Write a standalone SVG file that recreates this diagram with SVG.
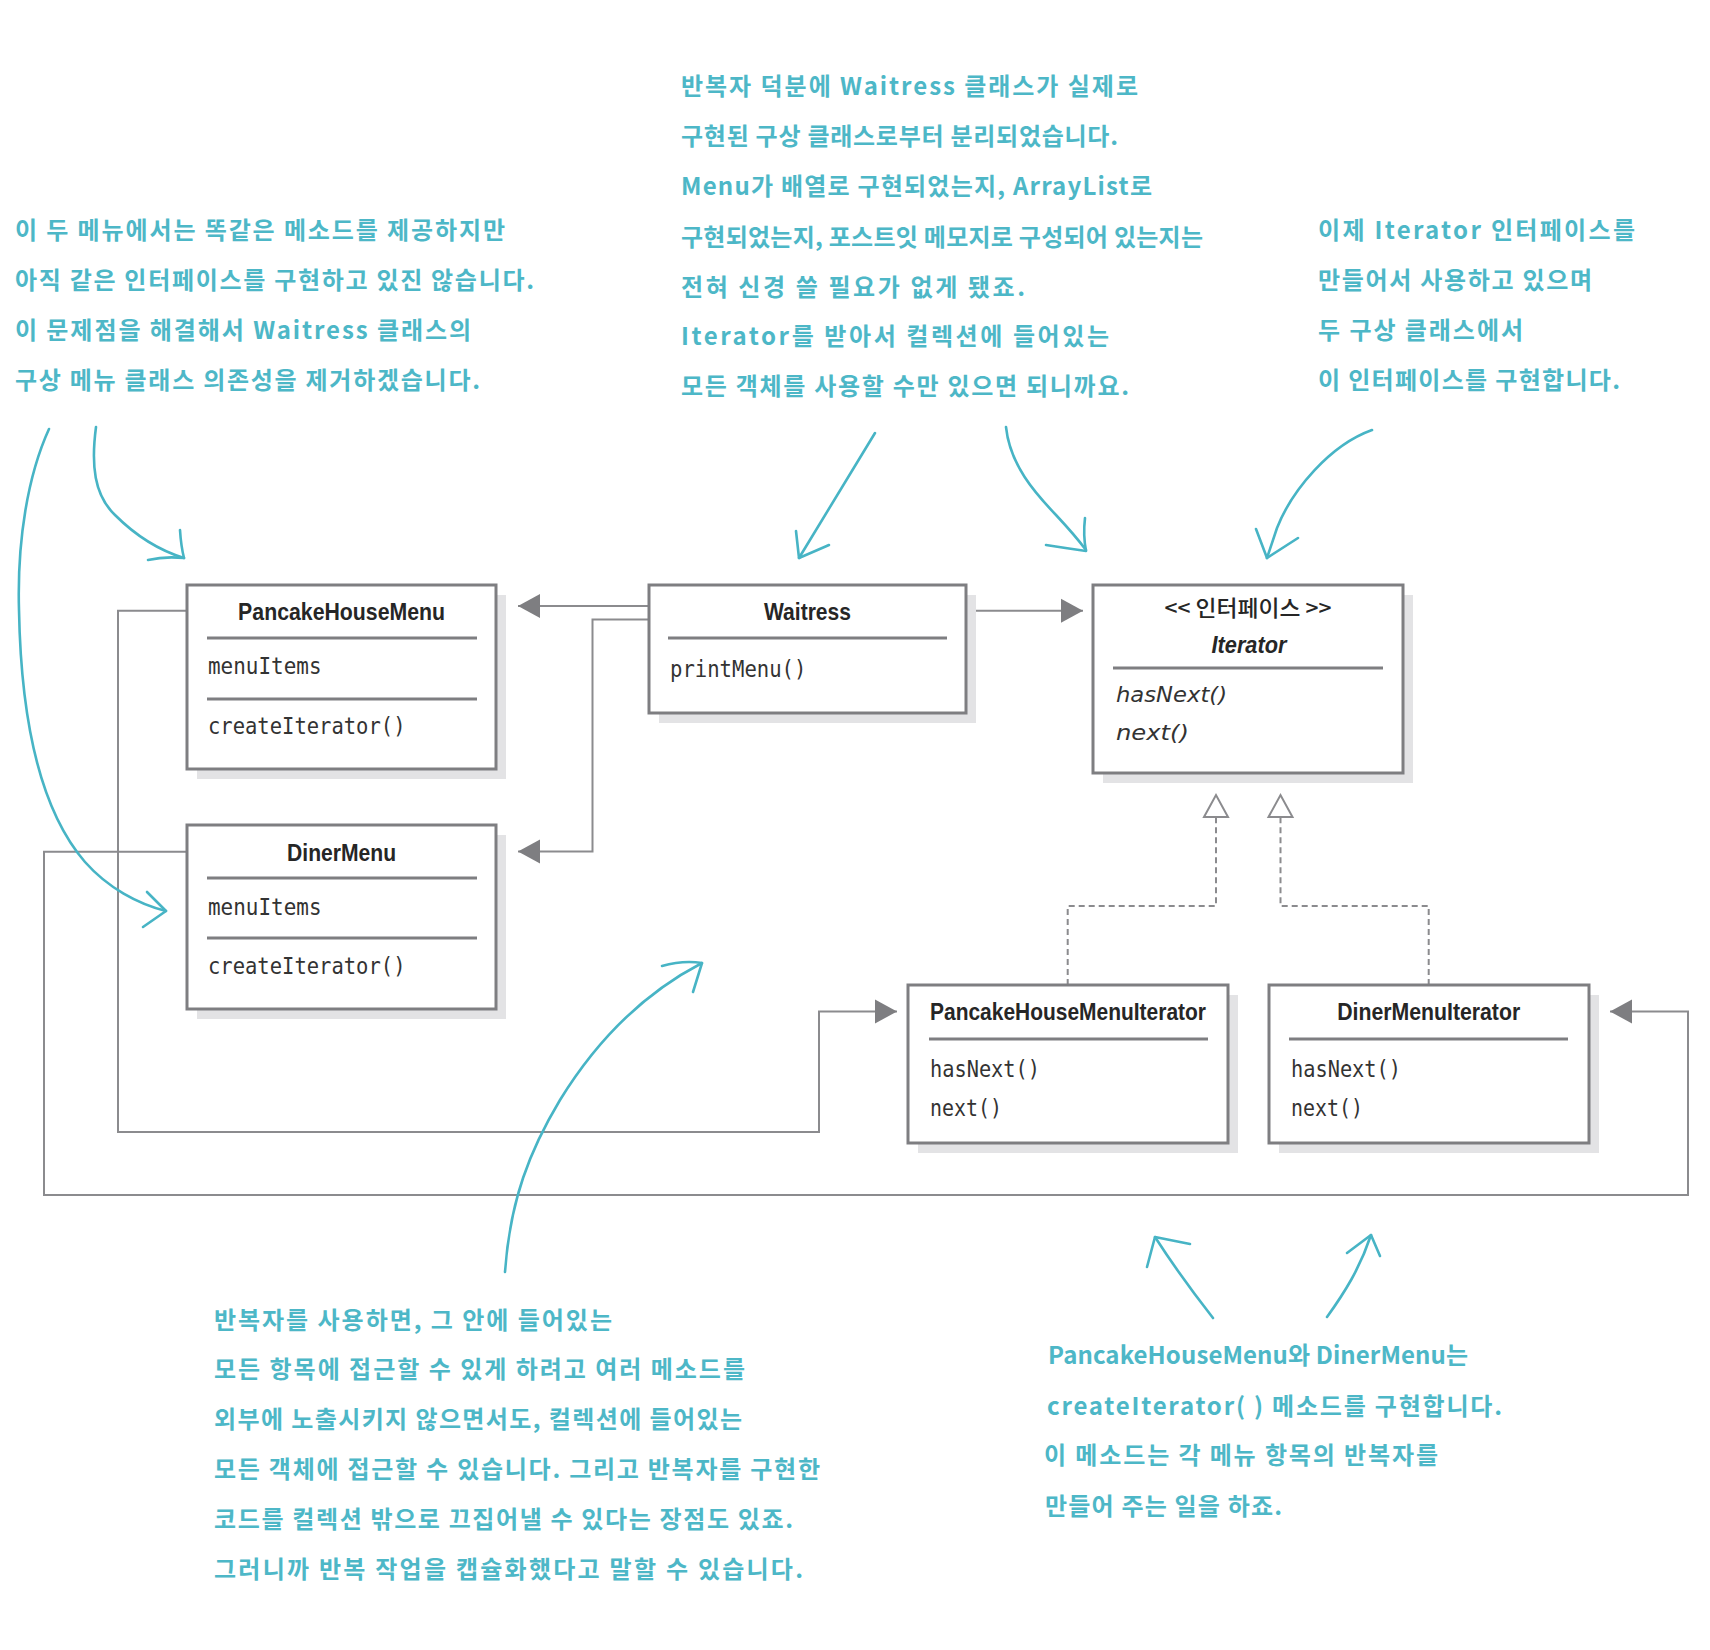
<svg xmlns="http://www.w3.org/2000/svg" width="1710" height="1650" viewBox="0 0 1710 1650">
<style>
.bg{fill:#ffffff}
.shadow{fill:#e3e3e5}
.box{fill:#ffffff;stroke:#7e7e81;stroke-width:3}
.div{stroke:#7e7e81;stroke-width:3}
.title{font-family:"Liberation Sans",Arial,sans-serif;font-weight:bold;font-size:24px;fill:#262626;text-anchor:middle}
.stereo{font-family:"Noto Sans CJK KR","Liberation Sans",sans-serif;font-weight:500;font-size:22px;fill:#262626;text-anchor:middle}
.ititle{font-family:"Liberation Sans",Arial,sans-serif;font-weight:bold;font-style:italic;font-size:23px;fill:#262626;text-anchor:middle}
.mono{font-family:"DejaVu Sans Mono","Liberation Mono",monospace;font-size:23px;fill:#333333}
.imeth{font-family:"DejaVu Sans","Liberation Sans",sans-serif;font-style:italic;font-size:22px;fill:#333333}
.conn{stroke:#8b8b8e;stroke-width:2;fill:none}
.dash{stroke-dasharray:6 4}
.note{font-family:"Noto Sans CJK KR","Noto Sans",sans-serif;font-weight:700;font-size:24px;fill:#4db7c7}
.hand{stroke:#47b4c5;stroke-width:2.6;fill:none;stroke-linecap:round;stroke-linejoin:round}
</style>
<defs>
<marker id="solid" markerUnits="userSpaceOnUse" markerWidth="24" markerHeight="25" refX="22" refY="12" orient="auto" overflow="visible">
<path d="M0,0 L22,12 L0,24 z" fill="#7e7e81"/>
</marker>
<marker id="hollow" markerUnits="userSpaceOnUse" markerWidth="26" markerHeight="28" refX="22" refY="12" orient="auto" overflow="visible">
<path d="M0,0 L22,12 L0,24 z" fill="#ffffff" stroke="#8b8b8e" stroke-width="2"/>
</marker>
</defs>
<rect class="bg" x="0" y="0" width="1710" height="1650"/>

<g id="connectors">
<path class="conn" d="M649,606 L518,606" marker-end="url(#solid)"/>
<path class="conn" d="M649,619.5 L592.5,619.5 L592.5,851.5 L518,851.5" marker-end="url(#solid)"/>
<path class="conn" d="M966,610.7 L1083,610.7" marker-end="url(#solid)"/>
<path class="conn" d="M187,610.7 L118,610.7 L118,1132 L819,1132 L819,1011.5 L897,1011.5" marker-end="url(#solid)"/>
<path class="conn" d="M187,851.7 L44,851.7 L44,1195 L1688,1195 L1688,1011.5 L1610,1011.5" marker-end="url(#solid)"/>
<path class="conn dash" d="M1067.7,985 L1067.7,906 L1216,906 L1216,795" marker-end="url(#hollow)"/>
<path class="conn dash" d="M1428.7,985 L1428.7,906 L1280.5,906 L1280.5,795" marker-end="url(#hollow)"/>
</g>

<g id="PancakeHouseMenu">
<rect class="shadow" x="197" y="595" width="309" height="184"/>
<rect class="box" x="187" y="585" width="309" height="184"/>
<text class="title" x="341.6" y="620" textLength="207" lengthAdjust="spacingAndGlyphs">PancakeHouseMenu</text>
<line class="div" x1="207" y1="638" x2="477" y2="638"/>
<text class="mono" x="208" y="674" textLength="113.5" lengthAdjust="spacingAndGlyphs">menuItems</text>
<line class="div" x1="207" y1="699" x2="477" y2="699"/>
<text class="mono" x="208" y="734" textLength="197.5" lengthAdjust="spacingAndGlyphs">createIterator()</text>
</g>

<g id="DinerMenu">
<rect class="shadow" x="197" y="835" width="309" height="184"/>
<rect class="box" x="187" y="825" width="309" height="184"/>
<text class="title" x="341.6" y="861" textLength="109" lengthAdjust="spacingAndGlyphs">DinerMenu</text>
<line class="div" x1="207" y1="878" x2="477" y2="878"/>
<text class="mono" x="208" y="915" textLength="113.5" lengthAdjust="spacingAndGlyphs">menuItems</text>
<line class="div" x1="207" y1="938" x2="477" y2="938"/>
<text class="mono" x="208" y="974" textLength="197.5" lengthAdjust="spacingAndGlyphs">createIterator()</text>
</g>

<g id="Waitress">
<rect class="shadow" x="659" y="595" width="317" height="128"/>
<rect class="box" x="649" y="585" width="317" height="128"/>
<text class="title" x="807.5" y="620" textLength="87" lengthAdjust="spacingAndGlyphs">Waitress</text>
<line class="div" x1="668" y1="638" x2="947" y2="638"/>
<text class="mono" x="670" y="677" textLength="136.4" lengthAdjust="spacingAndGlyphs">printMenu()</text>
</g>

<g id="Iterator">
<rect class="shadow" x="1103" y="595" width="310" height="188"/>
<rect class="box" x="1093" y="585" width="310" height="188"/>
<text class="stereo" x="1248" y="616" textLength="167" lengthAdjust="spacingAndGlyphs">&lt;&lt; 인터페이스 &gt;&gt;</text>
<text class="ititle" x="1249" y="653" textLength="75" lengthAdjust="spacingAndGlyphs">Iterator</text>
<line class="div" x1="1113" y1="668" x2="1383" y2="668"/>
<text class="imeth" x="1116" y="702" textLength="111" lengthAdjust="spacingAndGlyphs">hasNext()</text>
<text class="imeth" x="1116" y="740" textLength="73" lengthAdjust="spacingAndGlyphs">next()</text>
</g>

<g id="PancakeHouseMenuIterator">
<rect class="shadow" x="918" y="995" width="320" height="158"/>
<rect class="box" x="908" y="985" width="320" height="158"/>
<text class="title" x="1068" y="1020" textLength="276" lengthAdjust="spacingAndGlyphs">PancakeHouseMenuIterator</text>
<line class="div" x1="929" y1="1039" x2="1208" y2="1039"/>
<text class="mono" x="930" y="1077" textLength="110" lengthAdjust="spacingAndGlyphs">hasNext()</text>
<text class="mono" x="930" y="1116" textLength="72" lengthAdjust="spacingAndGlyphs">next()</text>
</g>

<g id="DinerMenuIterator">
<rect class="shadow" x="1279" y="995" width="320" height="158"/>
<rect class="box" x="1269" y="985" width="320" height="158"/>
<text class="title" x="1428.7" y="1020" textLength="183" lengthAdjust="spacingAndGlyphs">DinerMenuIterator</text>
<line class="div" x1="1289" y1="1039" x2="1568" y2="1039"/>
<text class="mono" x="1291" y="1077" textLength="110" lengthAdjust="spacingAndGlyphs">hasNext()</text>
<text class="mono" x="1291" y="1116" textLength="72" lengthAdjust="spacingAndGlyphs">next()</text>
</g>

<g id="note-top-left">
<text class="note" x="15" y="239" textLength="490">이 두 메뉴에서는 똑같은 메소드를 제공하지만</text>
<text class="note" x="15" y="289" textLength="519">아직 같은 인터페이스를 구현하고 있진 않습니다.</text>
<text class="note" x="15" y="339" textLength="456">이 문제점을 해결해서 Waitress 클래스의</text>
<text class="note" x="15" y="389" textLength="465">구상 메뉴 클래스 의존성을 제거하겠습니다.</text>
</g>

<g id="note-top-middle">
<text class="note" x="681" y="95" textLength="457">반복자 덕분에 Waitress 클래스가 실제로</text>
<text class="note" x="681" y="145" textLength="437">구현된 구상 클래스로부터 분리되었습니다.</text>
<text class="note" x="681" y="195" textLength="471">Menu가 배열로 구현되었는지, ArrayList로</text>
<text class="note" x="681" y="246" textLength="522">구현되었는지, 포스트잇 메모지로 구성되어 있는지는</text>
<text class="note" x="681" y="296" textLength="344">전혀 신경 쓸 필요가 없게 됐죠.</text>
<text class="note" x="681" y="345" textLength="428">Iterator를 받아서 컬렉션에 들어있는</text>
<text class="note" x="681" y="395" textLength="448">모든 객체를 사용할 수만 있으면 되니까요.</text>
</g>

<g id="note-top-right">
<text class="note" x="1318" y="239" textLength="317">이제 Iterator 인터페이스를</text>
<text class="note" x="1318" y="289" textLength="274">만들어서 사용하고 있으며</text>
<text class="note" x="1318" y="339" textLength="205">두 구상 클래스에서</text>
<text class="note" x="1318" y="389" textLength="302">이 인터페이스를 구현합니다.</text>
</g>

<g id="note-bottom-left">
<text class="note" x="214" y="1329" textLength="398">반복자를 사용하면, 그 안에 들어있는</text>
<text class="note" x="214" y="1378" textLength="531">모든 항목에 접근할 수 있게 하려고 여러 메소드를</text>
<text class="note" x="214" y="1428" textLength="528">외부에 노출시키지 않으면서도, 컬렉션에 들어있는</text>
<text class="note" x="214" y="1478" textLength="606">모든 객체에 접근할 수 있습니다. 그리고 반복자를 구현한</text>
<text class="note" x="214" y="1528" textLength="579">코드를 컬렉션 밖으로 끄집어낼 수 있다는 장점도 있죠.</text>
<text class="note" x="214" y="1578" textLength="589">그러니까 반복 작업을 캡슐화했다고 말할 수 있습니다.</text>
</g>

<g id="note-bottom-right">
<text class="note" x="1048" y="1364" textLength="420">PancakeHouseMenu와 DinerMenu는</text>
<text class="note" x="1047" y="1415" textLength="455">createIterator( ) 메소드를 구현합니다.</text>
<text class="note" x="1044" y="1464" textLength="394">이 메소드는 각 메뉴 항목의 반복자를</text>
<text class="note" x="1045" y="1515" textLength="237">만들어 주는 일을 하죠.</text>
</g>

<g id="hand-arrows">
<path class="hand" d="M96,427 C91,465 94,495 115,515 C135,535 158,550 184,558"/>
<path class="hand" d="M180,530 Q181,546 184,558 Q165,556 148,560"/>
<path class="hand" d="M49,429 C28,475 17,540 19,610 C21,720 40,810 85,862 C108,888 138,904 166,911"/>
<path class="hand" d="M147,892 L166,911 L143,927"/>
<path class="hand" d="M875,433 L799,558"/>
<path class="hand" d="M796,531 L799,558 L829,545"/>
<path class="hand" d="M1006,427 C1010,465 1035,493 1056,515 C1070,530 1080,542 1086,550"/>
<path class="hand" d="M1085,518 Q1083,535 1086,551 Q1065,548 1046,545"/>
<path class="hand" d="M1372,430 C1330,445 1292,490 1277,528 L1267,558"/>
<path class="hand" d="M1256,529 L1267,558 L1298,538"/>
<path class="hand" d="M505,1272 C510,1200 530,1150 560,1100 C600,1035 650,990 702,963"/>
<path class="hand" d="M662,966 Q683,960 702,963 L693,992"/>
<path class="hand" d="M1213,1318 C1195,1295 1175,1268 1155,1237"/>
<path class="hand" d="M1147,1267 L1155,1237 L1190,1244"/>
<path class="hand" d="M1327,1317 C1345,1292 1360,1268 1371,1235"/>
<path class="hand" d="M1347,1253 L1371,1235 L1380,1256"/>
</g>
</svg>
